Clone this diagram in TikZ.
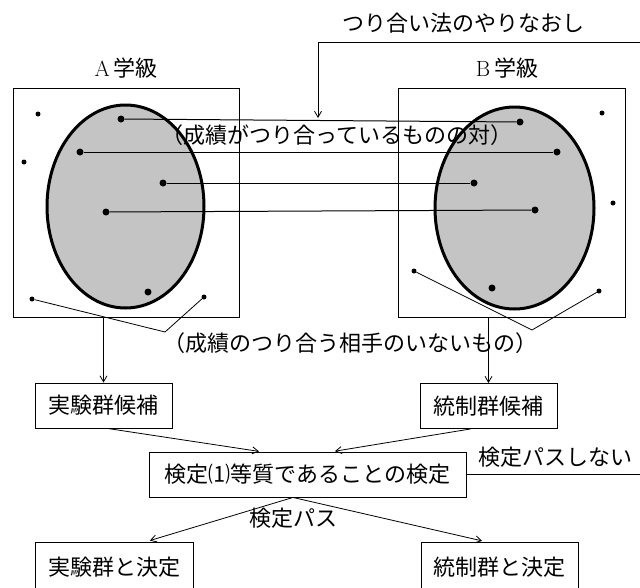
\documentclass[tikz,border=0pt]{standalone}
\usepackage{fontspec}
\newfontfamily\jp{Noto Sans CJK JP}
\usetikzlibrary{arrows.meta}
\definecolor{eggfill}{RGB}{196,196,196}
\begin{document}
\begin{tikzpicture}[x=1pt,y=-1pt,
  every node/.style={font=\jp\fontsize{22}{26}\selectfont, inner sep=0pt},
  box/.style={draw, line width=0.9pt, minimum height=45pt},
  frame/.style={draw, line width=0.9pt},
  dot/.style={circle, fill=black, inner sep=0pt, minimum size=5pt},
  bigdot/.style={circle, fill=black, inner sep=0pt, minimum size=7pt},
  pair/.style={line width=1pt},
  conn/.style={line width=0.8pt},
  egg/.style={draw, line width=3pt, fill=eggfill},
  arr/.style={-{Straight Barb[length=6pt,width=7pt]}, line width=0.8pt}]
\useasboundingbox (0,0) rectangle (640,587);
\clip (0,0) rectangle (640,587);

% class boxes and eggs
\node[frame, minimum width=226pt, minimum height=229pt] (boxA) at (126,202.5) {};
\node[frame, minimum width=227pt, minimum height=229pt] (boxB) at (511.5,202.5) {};
\draw[egg] (125.5,206.5) ellipse [x radius=78.5pt, y radius=101.5pt];
\draw[egg] (514.5,208) ellipse [x radius=79.5pt, y radius=101pt];

% labels
\node (title) at (463,23) {つり合い法のやりなおし};
\node (labA) at (126,68) {{\rmfamily A}\,学級};
\node (labB) at (507,68) {{\rmfamily B}\,学級};
\node (pairs) at (337,135) {（成績がつり合っているものの対）};
\node (none) at (350,343) {（成績のつり合う相手のいないもの）};

% dots of A
\node[dot] (ao1) at (38,114) {};
\node[dot] (ao2) at (24,162) {};
\node[dot] (ao3) at (32,299) {};
\node[dot] (ao4) at (204,297) {};
\node[bigdot] (p1) at (121,119) {};
\node[bigdot] (p2) at (80,152) {};
\node[bigdot] (p3) at (163,183) {};
\node[bigdot] (p4) at (106,212) {};
\node[bigdot] (p5) at (148,292) {};
% dots of B
\node[dot] (bo1) at (602,113) {};
\node[dot] (bo2) at (613,203) {};
\node[dot] (bo3) at (414,271) {};
\node[dot] (bo4) at (599,291) {};
\node[bigdot] (q1) at (520,122) {};
\node[bigdot] (q2) at (557,152) {};
\node[bigdot] (q3) at (474,183) {};
\node[bigdot] (q4) at (535,210) {};
\node[bigdot] (q5) at (492,288) {};

% pair lines
\draw[pair] (p1) -- (q1);
\draw[pair] (p2) -- (q2);
\draw[pair] (p3) -- (q3);
\draw[pair] (p4) -- (q4);

% unmatched
\coordinate (vA) at (165,332);
\coordinate (vB) at (532,330);
\draw[conn] (ao3) -- (vA) -- (ao4);
\draw[conn] (bo3) -- (vB) -- (bo4);

% flow boxes
\node[box, minimum width=137pt] (candA) at (103.5,405.5) {実験群候補};
\node[box, minimum width=137pt] (candB) at (488.5,406) {統制群候補};
\node[box, minimum width=317pt] (test) at (307.5,474.5) {検定⑴等質であることの検定};
\node[box, minimum width=158pt, minimum height=50pt] (decA) at (114,567) {実験群と決定};
\node[box, minimum width=157pt, minimum height=50pt] (decB) at (499.5,567) {統制群と決定};
\node (pass) at (293,518) {検定パス};
\node (fail) at (555,457) {検定パスしない};

% arrows
\draw[arr] (boxA.south -| candA.north) -- (candA.north);
\draw[arr] (boxB.south -| candB.north) -- (candB.north);
\coordinate (tA) at (263,452);
\coordinate (tB) at (330,452);
\draw[arr, shorten >=4pt] ([xshift=4pt]candA.south) -- (tA);
\draw[arr, shorten >=5pt] ([xshift=-18pt]candB.south) -- (tB);
\coordinate (split) at ([xshift=-14.5pt]test.south);
\coordinate (dA) at (145,542);
\coordinate (dB) at (487,542);
\draw[arr, shorten >=5pt] (split) -- (dA);
\draw[arr, shorten >=5pt] (split) -- (dB);
\coordinate (fbtop) at (318,118);
\draw[arr] (test.east) -| (650,42) -| (fbtop);
\end{tikzpicture}
\end{document}
